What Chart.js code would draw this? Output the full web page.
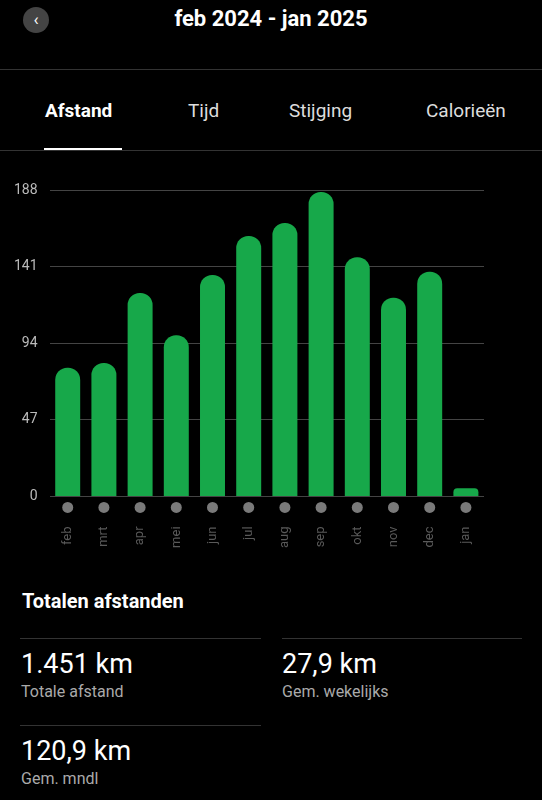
<!DOCTYPE html>
<html><head><meta charset="utf-8">
<script src="https://cdn.jsdelivr.net/npm/chart.js@4"></script>
<style>
body{margin:0;background:#000;width:542px;height:800px;overflow:hidden;font-family:Roboto,"Noto Sans",sans-serif;color:#fff;position:relative}
.a{position:absolute}
</style></head><body>
<div class="a" style="left:23px;top:7px;width:26px;height:26px;border-radius:50%;background:#444;color:#fff;font-size:17px;text-align:center;line-height:25px">&#8249;</div>
<div class="a" style="left:0;width:542px;top:6px;text-align:center;font-size:22px;font-weight:bold">feb 2024 - jan 2025</div>
<div class="a" style="left:0;top:69px;width:542px;height:1px;background:#333"></div>
<div class="a" style="left:45px;top:99px;font-size:19px;font-weight:bold">Afstand</div>
<div class="a" style="left:188px;top:99px;font-size:19px;color:#ddd">Tijd</div>
<div class="a" style="left:289px;top:99px;font-size:19px;color:#ddd">Stijging</div>
<div class="a" style="left:426px;top:99px;font-size:19px;color:#ddd">Calorieën</div>
<div class="a" style="left:0;top:150px;width:542px;height:1px;background:#333"></div>
<div class="a" style="left:44px;top:148px;width:78px;height:2px;background:#fff"></div>
<div class="a" style="left:0;top:170px;width:542px;height:400px"><canvas id="c"></canvas></div>
<div class="a" style="left:22px;top:589px;font-size:20px;font-weight:bold">Totalen afstanden</div>
<div class="a" style="left:20px;top:638px;width:241px;height:1px;background:#333"></div>
<div class="a" style="left:282px;top:638px;width:240px;height:1px;background:#333"></div>
<div class="a" style="left:20px;top:725px;width:241px;height:1px;background:#333"></div>
<div class="a" style="left:21px;top:648px;font-size:27px">1.451 km</div>
<div class="a" style="left:21px;top:682px;font-size:16px;color:#aaa">Totale afstand</div>
<div class="a" style="left:282px;top:648px;font-size:27px">27,9 km</div>
<div class="a" style="left:282px;top:682px;font-size:16px;color:#aaa">Gem. wekelijks</div>
<div class="a" style="left:21px;top:735px;font-size:27px">120,9 km</div>
<div class="a" style="left:21px;top:769px;font-size:16px;color:#aaa">Gem. mndl</div>
<script>
const months = ["feb","mrt","apr","mei","jun","jul","aug","sep","okt","nov","dec","jan"];
const distances = [79, 82, 125, 99, 136, 160, 168, 187, 147, 122, 138, 5];
const yTicks = [0, 47, 94, 141, 188];

const dots = {
  id:'dots',
  afterDraw(ch){
    const c=ch.ctx, x=ch.scales.x, y=ch.chartArea.bottom+11;
    c.save(); c.fillStyle='#7a7a7a';
    months.forEach((m,i)=>{c.beginPath();c.arc(x.getPixelForValue(i),y,5.5,0,Math.PI*2);c.fill();});
    c.restore();
  }
};
new Chart(document.getElementById('c'),{
  type:'bar',
  data:{labels:months,datasets:[{data:distances,backgroundColor:'#17a84a',borderRadius:{topLeft:12,topRight:12},borderSkipped:'bottom',barPercentage:0.69,categoryPercentage:1}]},
  options:{
    responsive:true,maintainAspectRatio:false,animation:false,
    layout:{padding:{top:2,right:58,left:2}},
    plugins:{legend:{display:false},tooltip:{enabled:false}},
    scales:{
      x:{grid:{display:false},border:{display:false},
         ticks:{color:'#5a5a5a',font:{size:13,family:'Roboto'},minRotation:90,maxRotation:90,padding:22}},
      y:{min:0,max:188,afterBuildTicks(s){s.ticks=yTicks.map(v=>({value:v}));},
         grid:{color:'#444',drawTicks:false},border:{display:false},
         ticks:{color:'#bbb',font:{size:14,family:'Roboto'},padding:12}}
    }
  },
  plugins:[dots]
});
</script>
</body></html>
